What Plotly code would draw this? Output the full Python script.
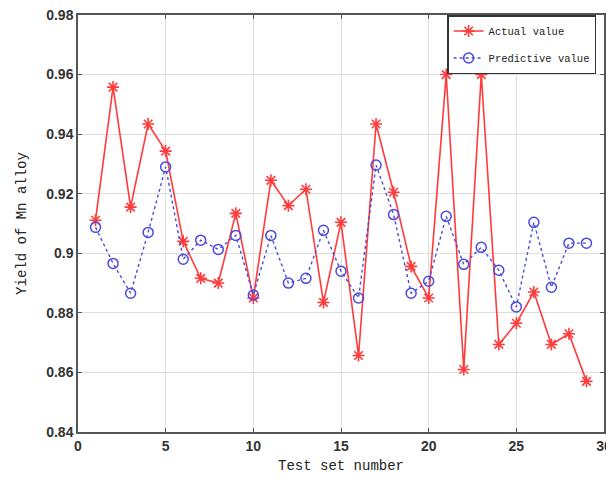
import plotly.graph_objects as go

test_set = list(range(1, 30))
actual = [0.9111, 0.9558, 0.9155, 0.9434, 0.9343, 0.904, 0.8916, 0.890, 0.9134, 0.885,
          0.9245, 0.916, 0.9215, 0.8835, 0.9104, 0.8657, 0.9434, 0.9205, 0.8956, 0.885,
          0.960, 0.861, 0.960, 0.8694, 0.8765, 0.887, 0.8694, 0.873, 0.857]
predicted = [0.9087, 0.8966, 0.8866, 0.907, 0.929, 0.898, 0.9044, 0.9013, 0.906, 0.886,
             0.906, 0.890, 0.8916, 0.9077, 0.894, 0.885, 0.9296, 0.913, 0.8866, 0.8906,
             0.9124, 0.8963, 0.902, 0.8943, 0.882, 0.9104, 0.8886, 0.9034, 0.9034]
x_ticks = [0, 5, 10, 15, 20, 25, 30]
y_ticks = [0.84, 0.86, 0.88, 0.9, 0.92, 0.94, 0.96, 0.98]
y_tick_labels = ["0.84", "0.86", "0.88", "0.9", "0.92", "0.94", "0.96", "0.98"]

fig = go.Figure()
fig.add_trace(go.Scatter(
    x=test_set, y=actual, mode="lines+markers", name="Actual value", legendgroup="a",
    line=dict(color="#ff3b3b", width=1.6),
    marker=dict(symbol="asterisk-open", size=10, line=dict(color="#ff1a1a", width=1.6)),
))
fig.add_trace(go.Scatter(
    x=test_set, y=predicted, mode="lines+markers", name="Predictive value", legendgroup="b",
    line=dict(color="#4a4ae0", width=1.4, dash="dot"),
    marker=dict(symbol="circle-open", size=10, line=dict(color="#3535e0", width=1.5)),
))

axis_common = dict(
    showgrid=True, gridcolor="#dedede", gridwidth=1,
    showline=True, linecolor="#555555", linewidth=1.5, mirror="ticks",
    ticks="inside", ticklen=4, tickcolor="#555555",
    zeroline=False, automargin=False, ticklabeloverflow="allow",
    tickfont=dict(family="Liberation Sans, Arial", size=14, color="#333333", weight="bold"),
)

fig.update_layout(
    width=606, height=468,
    margin=dict(l=70, r=10, t=7, b=44),
    paper_bgcolor="white", plot_bgcolor="white",
    showlegend=True,
    legend=dict(
        x=0.985, y=1.0, xanchor="right", yanchor="top",
        bgcolor="white", bordercolor="#333333", borderwidth=1.5,
        font=dict(family="Liberation Mono, DejaVu Sans Mono", size=10.5, color="#222222"),
        tracegroupgap=8, itemwidth=30,
    ),
    xaxis=dict(range=[0, 30], tickvals=x_ticks,
               title=dict(text="Test set number", standoff=8,
                          font=dict(family="Liberation Mono, DejaVu Sans Mono", size=14, color="#222222")),
               **axis_common),
    yaxis=dict(range=[0.84, 0.98], tickvals=y_ticks, ticktext=y_tick_labels,
               title=dict(text="Yield of Mn alloy", standoff=16,
                          font=dict(family="Liberation Mono, DejaVu Sans Mono", size=14, color="#222222")),
               **axis_common),
)

fig.write_html("out.html")
